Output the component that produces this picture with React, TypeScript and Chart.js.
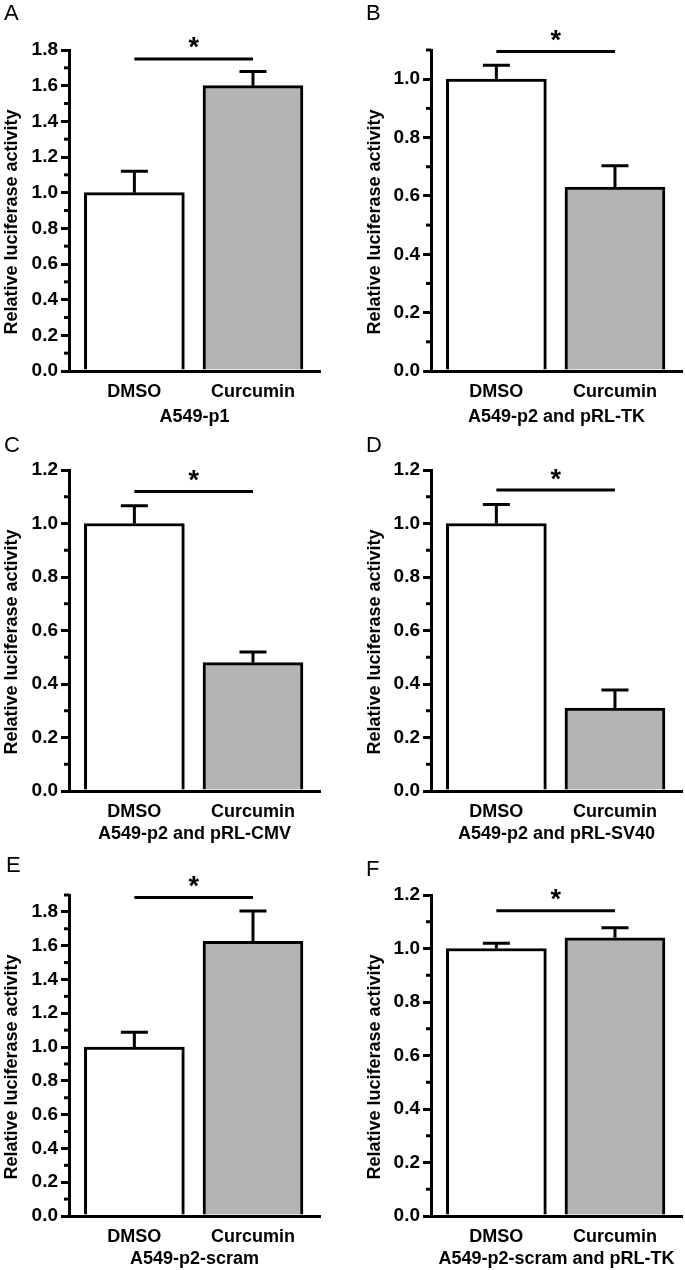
import React, { useEffect, useRef } from 'react';
import { Chart, registerables } from 'chart.js';

Chart.register(...registerables);

const FONT = "'Liberation Sans', Arial, Helvetica, sans-serif";

// ---------- data ----------
const categories = ['DMSO', 'Curcumin'];
const panelLetters = ['A', 'B', 'C', 'D', 'E', 'F'];
const groupLabels = [
  'A549-p1',
  'A549-p2 and pRL-TK',
  'A549-p2 and pRL-CMV',
  'A549-p2 and pRL-SV40',
  'A549-p2-scram',
  'A549-p2-scram and pRL-TK',
];
const yAxisTitle = 'Relative luciferase activity';

const meansA = [1.0, 1.6];
const errorsA = [0.12, 0.08];
const meansB = [1.0, 0.63];
const errorsB = [0.048, 0.073];
const meansC = [1.0, 0.48];
const errorsC = [0.066, 0.04];
const meansD = [1.0, 0.31];
const errorsD = [0.071, 0.068];
const meansE = [1.0, 1.626];
const errorsE = [0.088, 0.18];
const meansF = [1.0, 1.04];
const errorsF = [0.02, 0.038];

const allMeans = [meansA, meansB, meansC, meansD, meansE, meansF];
const allErrors = [errorsA, errorsB, errorsC, errorsD, errorsE, errorsF];
const yMaxes = [1.8, 1.1, 1.2, 1.2, 1.9, 1.2];
const sigLevels = [1.75, 1.095, 1.12, 1.125, 1.885, 1.141];
const majorStep = 0.2;
const minorStep = 0.1;

// ---------- layout ----------
const colX = [0, 362];
const rowY = [0, 420, 845];
const canvasW = [342, 323];
const canvasH = 431;
const plotLeft = 69;
const plotRight = 320;
const plotTop = 50;
const plotBottom = 371;
const xMin = -0.551;
const xMax = 1.565;
const titlePadByRow = [3, 6, 6];
const letterPos = [
  [4, 5],
  [366, 5],
  [4, 437],
  [366, 437],
  [6, 857],
  [366, 861],
];
const titleCenter = [
  [11, 222],
  [12, 222],
];
const barColors = ['#ffffff', '#b4b4b4'];

const decorations = {
  id: 'decorations',
  afterDraw(chart: any, _args: any, opts: any) {
    const { ctx, chartArea } = chart;
    const xs = chart.scales.x;
    const ys = chart.scales.y;
    ctx.save();
    ctx.strokeStyle = '#000';
    ctx.fillStyle = '#000';
    ctx.lineWidth = 3;
    ctx.lineCap = 'butt';
    // minor ticks
    const n = Math.round(opts.yMax / minorStep);
    for (let k = 1; k <= n; k += 2) {
      const py = ys.getPixelForValue(k * minorStep);
      ctx.beginPath();
      ctx.moveTo(chartArea.left - 5, py);
      ctx.lineTo(chartArea.left, py);
      ctx.stroke();
    }
    // error bars
    const meta = chart.getDatasetMeta(0);
    meta.data.forEach((bar: any, k: number) => {
      const base = ys.getPixelForValue(opts.means[k]);
      const top = ys.getPixelForValue(opts.means[k] + opts.errors[k]);
      ctx.beginPath();
      ctx.moveTo(bar.x, base);
      ctx.lineTo(bar.x, top);
      ctx.moveTo(bar.x - 13.5, top);
      ctx.lineTo(bar.x + 13.5, top);
      ctx.stroke();
    });
    // significance bar
    const sy = ys.getPixelForValue(opts.sig);
    const x0 = xs.getPixelForValue(0);
    const x1 = xs.getPixelForValue(1);
    ctx.beginPath();
    ctx.moveTo(x0, sy);
    ctx.lineTo(x1, sy);
    ctx.stroke();
    ctx.font = `bold 27px ${FONT}`;
    ctx.textAlign = 'center';
    ctx.textBaseline = 'alphabetic';
    const m = ctx.measureText('*');
    const half = (m.actualBoundingBoxAscent - m.actualBoundingBoxDescent) / 2;
    ctx.fillText('*', (x0 + x1) / 2, sy - 16 + half);
    ctx.restore();
  },
};

function Panel({ index }: { index: number }) {
  const ref = useRef<HTMLCanvasElement | null>(null);
  const col = index % 2;
  const row = Math.floor(index / 2);
  const w = canvasW[col];

  useEffect(() => {
    if (!ref.current) return;
    const means = allMeans[index];
    const errors = allErrors[index];
    const chart = new Chart(ref.current, {
      type: 'bar',
      data: {
        datasets: [
          {
            data: categories.map((_, k) => ({ x: k, y: means[k] })),
            backgroundColor: barColors,
            borderColor: '#000',
            borderWidth: 3,
            borderSkipped: 'start',
            barThickness: 100,
          } as any,
        ],
      },
      options: {
        animation: false,
        responsive: false,
        events: [],
        layout: { padding: { left: 0, top: plotTop, right: w - plotRight, bottom: 0 } },
        plugins: {
          legend: { display: false },
          tooltip: { enabled: false },
          decorations: { means, errors, sig: sigLevels[index], yMax: yMaxes[index] },
        } as any,
        scales: {
          x: {
            type: 'linear',
            min: xMin,
            max: xMax,
            offset: false,
            z: 1,
            afterBuildTicks: (s: any) => {
              s.ticks = categories.map((_, k) => ({ value: k }));
            },
            afterFit: (s: any) => {
              s.height = canvasH - plotBottom;
            },
            ticks: {
              padding: 10,
              autoSkip: false,
              maxRotation: 0,
              color: '#000',
              font: { family: FONT, size: 18, weight: 'bold' },
              callback: (v: any) => categories[Number(v)] ?? '',
            },
            grid: { display: true, drawOnChartArea: false, drawTicks: false, offset: false },
            border: { display: true, width: 3, color: '#000' },
            title: {
              display: true,
              text: groupLabels[index],
              color: '#000',
              font: { family: FONT, size: 18, weight: 'bold' },
              padding: { top: 0, bottom: titlePadByRow[row] },
            },
          } as any,
          y: {
            type: 'linear',
            min: 0,
            max: yMaxes[index],
            z: 1,
            afterFit: (s: any) => {
              s.width = plotLeft;
            },
            ticks: {
              stepSize: majorStep,
              includeBounds: false,
              padding: 3,
              color: '#000',
              font: { family: FONT, size: 19, weight: 'bold' },
              callback: (v: any) => Number(v).toFixed(1),
            },
            grid: { drawOnChartArea: false, drawTicks: true, tickLength: 8, lineWidth: 3, color: '#000' },
            border: { display: true, width: 3, color: '#000' },
          } as any,
        },
      },
      plugins: [decorations as any],
    });
    return () => chart.destroy();
  }, [index, w, row]);

  const [lx, ly] = letterPos[index];
  const [tx, ty] = titleCenter[col];
  return (
    <>
      <canvas
        ref={ref}
        width={w}
        height={canvasH}
        style={{ position: 'absolute', left: colX[col], top: rowY[row], width: w, height: canvasH }}
      />
      <div
        style={{
          position: 'absolute',
          left: lx,
          top: ly - 3,
          fontFamily: FONT,
          fontSize: 22,
          lineHeight: '22px',
          color: '#000',
        }}
      >
        {panelLetters[index]}
      </div>
      <div
        style={{
          position: 'absolute',
          left: colX[col] + tx,
          top: rowY[row] + ty,
          transform: 'translate(-50%, -50%) rotate(-90deg)',
          fontFamily: FONT,
          fontSize: 18,
          fontWeight: 'bold',
          lineHeight: '20px',
          whiteSpace: 'nowrap',
          color: '#000',
        }}
      >
        {yAxisTitle}
      </div>
    </>
  );
}

export default function App() {
  return (
    <div
      style={{
        position: 'absolute',
        left: 0,
        top: 0,
        width: 685,
        height: 1270,
        background: '#fff',
        overflow: 'hidden',
      }}
    >
      {panelLetters.map((_, i) => (
        <Panel key={i} index={i} />
      ))}
    </div>
  );
}
